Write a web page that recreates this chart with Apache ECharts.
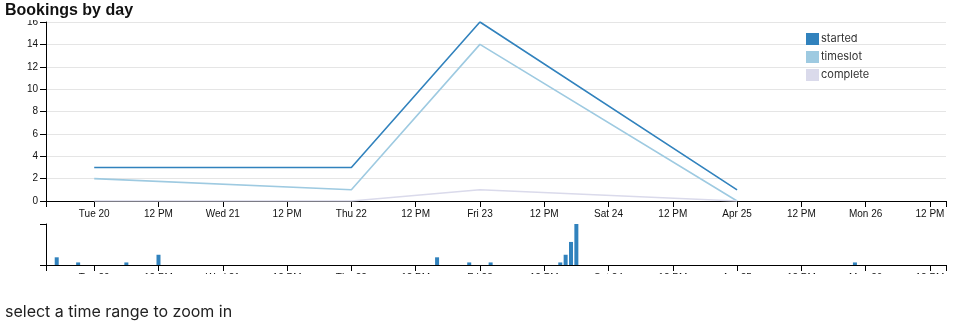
<!DOCTYPE html>
<html>
<head>
<meta charset="utf-8">
<script src="https://cdn.jsdelivr.net/npm/echarts@6/dist/echarts.min.js"></script>
<style>
html,body{margin:0;padding:0;background:#fff;}
#chart{width:963px;height:328px;}
</style>
</head>
<body>
<div id="chart"></div>
<script>
// ---- data ----
const lineDates = ['2021-04-20 00:00', '2021-04-22 00:00', '2021-04-23 00:00', '2021-04-25 00:00'];
const started = [3, 3, 16, 1];
const timeslot = [2, 1, 14, 0];
const complete = [0, 0, 1, 0];

const histTimes = ['2021-04-19 17:00', '2021-04-19 21:00', '2021-04-20 06:00', '2021-04-20 12:00',
  '2021-04-22 16:00', '2021-04-22 22:00', '2021-04-23 02:00', '2021-04-23 15:00',
  '2021-04-23 16:00', '2021-04-23 17:00', '2021-04-23 18:00', '2021-04-25 22:00'];
const histCounts = [3, 1, 1, 4, 3, 1, 1, 1, 4, 9, 16, 1];

const tickTimes = ['2021-04-20 00:00', '2021-04-20 12:00', '2021-04-21 00:00', '2021-04-21 12:00',
  '2021-04-22 00:00', '2021-04-22 12:00', '2021-04-23 00:00', '2021-04-23 12:00',
  '2021-04-24 00:00', '2021-04-24 12:00', '2021-04-25 00:00', '2021-04-25 12:00',
  '2021-04-26 00:00', '2021-04-26 12:00'];
const tickLabels = ['Tue 20', '12 PM', 'Wed 21', '12 PM', 'Thu 22', '12 PM', 'Fri 23', '12 PM',
  'Sat 24', '12 PM', 'Apr 25', '12 PM', 'Mon 26', '12 PM'];
const domainStart = '2021-04-19 15:00';
const domainEnd = '2021-04-26 15:00';

// ---- helpers ----
function t(s) {
  const [d, hm] = s.split(' ');
  const [Y, M, D] = d.split('-').map(Number);
  const [h, m] = hm.split(':').map(Number);
  return Date.UTC(Y, M - 1, D, h, m);
}
const T0 = t(domainStart), T1 = t(domainEnd);
const tickVals = tickTimes.map(t);
const tickAll = [T0].concat(tickVals, [T1]);
function fmt(v) {
  const i = tickVals.indexOf(v);
  return i >= 0 ? tickLabels[i] : '';
}

const axisFont = 'Liberation Sans, Arial, sans-serif';
function xAxisDef(gi) {
  return {
    type: 'value', gridIndex: gi, min: T0, max: T1,
    axisLine: { show: true, lineStyle: { color: '#000', width: 1 } },
    axisTick: { show: true, length: 6, customValues: tickAll, lineStyle: { color: '#000', width: 1 } },
    axisLabel: { customValues: tickVals, formatter: fmt, fontSize: 10, color: '#111', margin: 8, fontFamily: axisFont },
    splitLine: { show: false }
  };
}

const chart = echarts.init(document.getElementById('chart'), null, { renderer: 'canvas' });
const lineSeries = (name, vals, color) => ({
  name, type: 'line', xAxisIndex: 0, yAxisIndex: 0,
  data: lineDates.map((d, i) => [t(d), vals[i]]),
  showSymbol: false, symbol: 'none',
  lineStyle: { color, width: 1.6 }, itemStyle: { color },
  z: 3
});

chart.setOption({
  animation: false,
  backgroundColor: '#fff',
  title: {
    text: 'Bookings by day', left: 0, top: 0,
    padding: [3, 30, 1, 5],
    backgroundColor: '#fff',
    textStyle: { fontSize: 16, fontWeight: 'bold', color: '#111', fontFamily: axisFont, lineHeight: 16 },
    z: 10
  },
  legend: {
    orient: 'vertical', left: 801, top: 28,
    itemWidth: 13, itemHeight: 12, itemGap: 6, icon: 'rect',
    textStyle: { fontSize: 11, color: '#333', fontFamily: 'Inter, sans-serif', lineHeight: 12, padding: [0, 0, 0, -3] },
    data: ['started', 'timeslot', 'complete']
  },
  grid: [
    { left: 46, width: 900, top: 22, height: 179 },
    { left: 46, width: 900, top: 224, height: 41 }
  ],
  xAxis: [xAxisDef(0), xAxisDef(1)],
  yAxis: [
    {
      type: 'value', gridIndex: 0, min: 0, max: 16, interval: 2,
      axisLine: { show: true, lineStyle: { color: '#000', width: 1 } },
      axisTick: { show: true, length: 6, lineStyle: { color: '#000' } },
      axisLabel: { fontSize: 10, color: '#111', margin: 8, fontFamily: axisFont },
      splitLine: { show: true, lineStyle: { color: '#e5e5e5', width: 1 } }
    },
    {
      type: 'value', gridIndex: 1, min: 0, max: 16, interval: 16,
      axisLine: { show: true, lineStyle: { color: '#000', width: 1 } },
      axisTick: { show: true, length: 6, lineStyle: { color: '#000' } },
      axisLabel: { show: false },
      splitLine: { show: false }
    }
  ],
  graphic: [
    { type: 'rect', left: 0, top: 274, shape: { width: 963, height: 20 }, style: { fill: '#fff' }, z: 50 },
    { type: 'text', left: 5, top: 304, z: 60,
      style: { text: 'select a time range to zoom in', fontSize: 16, fill: '#222', fontFamily: 'Inter, sans-serif' } }
  ],
  series: [
    lineSeries('started', started, '#3182bd'),
    lineSeries('timeslot', timeslot, '#9ecae1'),
    lineSeries('complete', complete, '#dadaeb'),
    {
      name: 'bookings', type: 'bar', xAxisIndex: 1, yAxisIndex: 1,
      data: histTimes.map((d, i) => [t(d), histCounts[i]]),
      barWidth: 4, itemStyle: { color: '#3182bd' }
    }
  ]
});
</script>
</body>
</html>
